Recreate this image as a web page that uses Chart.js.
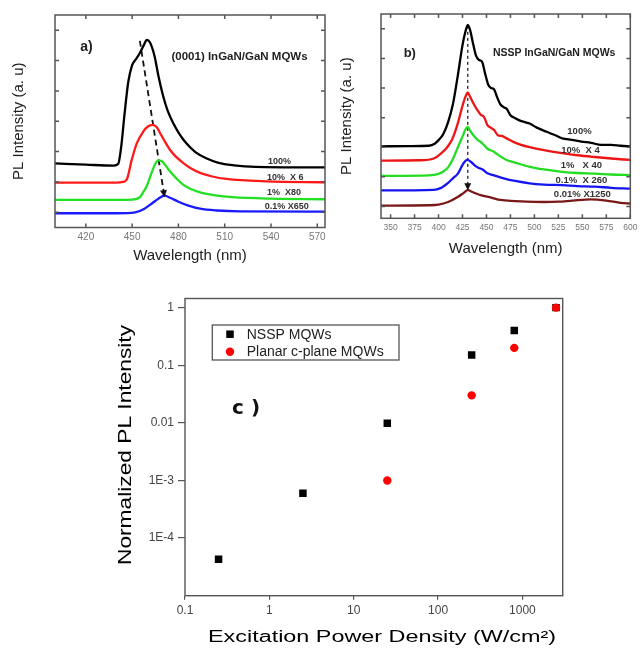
<!DOCTYPE html>
<html><head><meta charset="utf-8">
<script src="https://cdn.jsdelivr.net/npm/chart.js@4.4.0/dist/chart.umd.min.js"></script>
<style>
html,body{margin:0;padding:0;background:#fff;width:642px;height:648px;overflow:hidden;position:relative}
canvas{position:absolute}
</style></head><body>
<canvas id="ca" width="333" height="265" style="left:0;top:0"></canvas>
<canvas id="cb" width="309" height="262" style="left:333px;top:0"></canvas>
<canvas id="cc" width="542" height="383" style="left:100px;top:265px"></canvas>
<script>
// ---------- Panel a: (0001) InGaN/GaN MQWs ----------
const aTicksX = [420, 450, 480, 510, 540, 570];
const aTicksY = [0, 1, 2, 3, 4, 5, 6];
const a100X = [400,420,438,441,443,445,447.5,450,452.5,455,457.5,459.5,461.5,464.5,467,470,473,477,481,485,491,498,506,516,530,575];
const a100Y = [1.61,1.57,1.54,1.6,2.2,3.2,4.3,4.85,5.05,5.25,5.5,5.68,5.6,5.15,4.5,3.85,3.35,2.9,2.55,2.28,1.98,1.78,1.63,1.55,1.5,1.48];
const a10X = [400,420,440,444,446.5,449.7,453,457.2,460,463.3,466,468,471,474.5,478,483,488,494,502,511,537,575];
const a10Y = [0.98,0.98,0.98,1.0,1.08,1.72,2.27,2.66,2.82,2.88,2.8,2.62,2.35,2.06,1.85,1.63,1.45,1.30,1.18,1.10,1.02,0.99];
const a1X = [400,430,450,455,457,459.4,462.6,465,467,469,470.5,474.5,479,483,488,494,504,515,540,575];
const a1Y = [0.41,0.41,0.42,0.5,0.65,0.86,1.30,1.6,1.71,1.69,1.62,1.35,1.1,0.91,0.77,0.66,0.56,0.5,0.45,0.43];
const a01X = [400,420,440,452,458,463,467,471,475,480,486,494,505,520,575];
const a01Y = [-0.03,-0.03,-0.03,0.0,0.12,0.3,0.45,0.55,0.47,0.35,0.23,0.12,0.06,0.03,0.02];
const aPeakX = [455, 471];
const aPeakY = [5.65, 0.5];
const aLabels = ['100%', '10%  X 6', '1%  X80', '0.1% X650'];

// ---------- Panel b: NSSP InGaN/GaN MQWs ----------
const bTicksX = [350, 375, 400, 425, 450, 475, 500, 525, 550, 575, 600];
const bTicksY = [0, 1, 2, 3, 4, 5, 6];
const b100X = [340,370,390,396,400,405,410,415,420,425,428,430.5,433,436,439,442,445.5,448.5,452,455,458,461,464.5,468,471,475,480,485,490,495,502,512,520,529,539,549,559,569.6,580,590,600];
const b100Y = [2.03,2.04,2.05,2.12,2.24,2.45,2.85,3.45,4.4,5.45,5.9,6.13,5.95,5.5,5.1,4.95,4.88,4.5,4.1,4.0,3.95,3.7,3.45,3.35,3.3,3.08,2.98,2.9,2.85,2.8,2.67,2.53,2.43,2.3,2.25,2.19,2.15,2.08,2.08,2.05,2.03];
const b10X = [340,380,395,403,409,414,420,425,428,430.5,433,436,440,444,447.5,451,455,458,462,466,471,478,486,495,510,529,545,563,580,600];
const b10Y = [1.55,1.56,1.62,1.8,2.0,2.25,2.8,3.4,3.7,3.84,3.7,3.5,3.28,3.1,3.02,2.75,2.65,2.58,2.4,2.38,2.3,2.18,2.08,2.0,1.9,1.8,1.73,1.67,1.62,1.57];
const b1X = [340,390,400,405,410,415,420.4,425.5,428,430.5,433,437,440.7,444,447.5,451,457.7,464,471,480,495,510,529,545,563,580,600];
const b1Y = [1.03,1.05,1.1,1.18,1.32,1.6,2.02,2.4,2.6,2.69,2.55,2.38,2.25,2.18,2.07,1.95,1.85,1.7,1.57,1.48,1.34,1.25,1.17,1.13,1.11,1.08,1.06];
const b01X = [340,395,402,410,415,420.4,425.5,430,434,438,442,446,451,458,468,480,495,510,529,545,563,580,600];
const b01Y = [0.54,0.56,0.62,0.8,0.95,1.12,1.43,1.57,1.5,1.38,1.3,1.25,1.12,1.05,0.95,0.86,0.78,0.74,0.72,0.69,0.67,0.63,0.6];
const b001X = [340,390,400,410,420,426,430.5,436,444,455,464.5,480,491.7,510,525,540,559,575,590,600];
const b001Y = [0.03,0.04,0.06,0.15,0.32,0.45,0.55,0.48,0.38,0.3,0.22,0.18,0.16,0.15,0.16,0.2,0.24,0.2,0.12,0.1];
const bPeakX = [430.5, 430.5];
const bPeakY = [6.1, 0.55];
const bLabels = ['100%', '10%  X 4', '1%   X 40', '0.1%  X 260', '0.01% X1250'];

// ---------- Panel c: normalized PL intensity vs excitation ----------
const cTickX = [0.1, 1, 10, 100, 1000];
const cTickXLabels = ['0.1', '1', '10', '100', '1000'];
const cTickY = [1, 0.1, 0.01, 0.001, 0.0001];
const cTickYLabels = ['1', '0.1', '0.01', '1E-3', '1E-4'];
const nsspX = [0.25, 2.5, 25, 250, 800, 2500];
const nsspY = [4.3e-5, 6e-4, 0.0098, 0.15, 0.4, 1];
const planarX = [25, 250, 800, 2500];
const planarY = [1e-3, 0.03, 0.2, 1];

// ---------- helpers ----------
const FAM = "'Liberation Sans', Arial, sans-serif";
const pts = (xs, ys) => xs.map((x, i) => ({x: x, y: ys[i]}));
const setTicks = arr => (s => { s.ticks = arr.map(v => ({value: v})); });

function makeFrame(o) {
  return {
    id: 'frame',
    afterDatasetsDraw(chart) {
      const {ctx, chartArea: a} = chart;
      ctx.save();
      ctx.strokeStyle = o.color; ctx.lineWidth = o.width;
      ctx.strokeRect(a.left, a.top, a.right - a.left, a.bottom - a.top);
      if (o.tickLen) {
        const xs = chart.scales.x, ys = chart.scales.y, L = o.tickLen;
        ctx.beginPath();
        xs.ticks.forEach(t => {
          const p = xs.getPixelForValue(t.value);
          ctx.moveTo(p, a.bottom); ctx.lineTo(p, a.bottom - L);
          ctx.moveTo(p, a.top); ctx.lineTo(p, a.top + L);
        });
        ys.ticks.forEach(t => {
          const p = ys.getPixelForValue(t.value);
          ctx.moveTo(a.left, p); ctx.lineTo(a.left + L, p);
          ctx.moveTo(a.right, p); ctx.lineTo(a.right - L, p);
        });
        ctx.stroke();
      }
      ctx.restore();
    }
  };
}
function makeNotes(items) {
  return {
    id: 'notes',
    afterDatasetsDraw(chart) {
      const {ctx} = chart, xs = chart.scales.x, ys = chart.scales.y;
      ctx.save();
      items.forEach(it => {
        ctx.font = it.font; ctx.fillStyle = it.color || '#111';
        ctx.textAlign = it.align || 'left'; ctx.textBaseline = 'middle';
        ctx.fillText(it.text, xs.getPixelForValue(it.x), ys.getPixelForValue(it.y));
      });
      ctx.restore();
    }
  };
}
const arrowPlugin = {
  id: 'arrowHead',
  afterDatasetsDraw(chart) {
    const ctx = chart.ctx;
    chart.data.datasets.forEach((ds, i) => {
      if (!ds.arrow) return;
      const el = chart.getDatasetMeta(i).data;
      const p1 = el[el.length - 2], p2 = el[el.length - 1];
      const ang = Math.atan2(p2.y - p1.y, p2.x - p1.x);
      ctx.save(); ctx.fillStyle = ds.borderColor;
      ctx.translate(p2.x, p2.y); ctx.rotate(ang);
      ctx.beginPath(); ctx.moveTo(0, 0); ctx.lineTo(-7, -3.5); ctx.lineTo(-7, 3.5); ctx.closePath(); ctx.fill();
      ctx.restore();
    });
  }
};
function curve(xs, ys, color, w) {
  return {data: pts(xs, ys), borderColor: color, borderWidth: w, pointRadius: 0, cubicInterpolationMode: 'monotone', fill: false};
}
function specOptions(cfg) {
  return {
    responsive: false, animation: false, devicePixelRatio: 1, events: [],
    layout: {padding: {left: 0, top: cfg.top, right: cfg.right, bottom: 0}},
    plugins: {legend: {display: false}, tooltip: {enabled: false}},
    scales: {
      x: {type: 'linear', min: cfg.xmin, max: cfg.xmax,
          afterBuildTicks: setTicks(cfg.xt), afterFit: s => { s.height = cfg.xh; },
          grid: {display: false, drawTicks: false}, border: {display: false},
          ticks: {padding: cfg.tpad, color: '#777', font: {family: FAM, size: cfg.tsize}, maxRotation: 0, autoSkip: false},
          title: {display: true, text: 'Wavelength (nm)', color: '#222', font: {family: FAM, size: 15}, padding: {top: 0, bottom: cfg.xtPad}}},
      y: {type: 'linear', min: cfg.ymin, max: cfg.ymax,
          afterBuildTicks: setTicks(cfg.yt), afterFit: s => { s.width = cfg.yw; },
          grid: {display: false, drawTicks: false}, border: {display: false},
          ticks: {display: false},
          title: {display: true, text: 'PL Intensity (a. u)', color: '#222', font: {family: FAM, size: 15}, padding: {top: cfg.ytPad, bottom: 0}}}
    }
  };
}

// ---------- Panel a chart ----------
new Chart(document.getElementById('ca'), {
  type: 'line',
  data: {datasets: [
    curve(a100X, a100Y, '#000000', 2.3),
    curve(a10X, a10Y, '#ff1a1a', 2.3),
    curve(a1X, a1Y, '#22e022', 2.3),
    curve(a01X, a01Y, '#1a1aff', 2.3),
    {data: pts(aPeakX, aPeakY), borderColor: '#111', borderWidth: 1.8, borderDash: [6, 4], pointRadius: 0, arrow: true}
  ]},
  options: specOptions({top: 15, right: 8, xmin: 400, xmax: 575, xt: aTicksX, xh: 37.5, tpad: 4, tsize: 10, xtPad: 0,
                        ymin: -0.5, ymax: 6.5, yt: aTicksY, yw: 55, ytPad: 10}),
  plugins: [makeFrame({color: '#555', width: 1.5, tickLen: 4}), arrowPlugin, makeNotes([
    {text: 'a)', x: 420.4, y: 5.45, font: 'bold 14px ' + FAM, align: 'center', color: '#222'},
    {text: '(0001) InGaN/GaN MQWs', x: 519.6, y: 5.12, font: 'bold 11.5px ' + FAM, align: 'center', color: '#222'},
    {text: aLabels[0], x: 538, y: 1.69, font: 'bold 9px ' + FAM, color: '#333'},
    {text: aLabels[1], x: 537.4, y: 1.16, font: 'bold 9px ' + FAM, color: '#333'},
    {text: aLabels[2], x: 537.4, y: 0.64, font: 'bold 9px ' + FAM, color: '#333'},
    {text: aLabels[3], x: 536, y: 0.175, font: 'bold 9px ' + FAM, color: '#333'}
  ])]
});

// ---------- Panel b chart ----------
new Chart(document.getElementById('cb'), {
  type: 'line',
  data: {datasets: [
    curve(b100X, b100Y, '#000000', 2.3),
    curve(b10X, b10Y, '#ee1515', 2.3),
    curve(b1X, b1Y, '#22dd22', 2.3),
    curve(b01X, b01Y, '#1515f0', 2.3),
    curve(b001X, b001Y, '#7a1818', 2.3),
    {data: pts(bPeakX, bPeakY), borderColor: '#111', borderWidth: 1.2, borderDash: [3, 3], pointRadius: 0, arrow: true}
  ]},
  options: specOptions({top: 14, right: 5.3, xmin: 340, xmax: 600, xt: bTicksX, xh: 43.7, tpad: 4.6, tsize: 8.5, xtPad: 4,
                        ymin: -0.4, ymax: 6.5, yt: bTicksY, yw: 48, ytPad: 5}),
  plugins: [makeFrame({color: '#555', width: 1.5, tickLen: 4}), arrowPlugin, makeNotes([
    {text: 'b)', x: 370, y: 5.18, font: 'bold 13px ' + FAM, align: 'center', color: '#222'},
    {text: 'NSSP InGaN/GaN MQWs', x: 520.6, y: 5.18, font: 'bold 10.5px ' + FAM, align: 'center', color: '#222'},
    {text: bLabels[0], x: 547, y: 2.52, font: 'bold 9.5px ' + FAM, align: 'center', color: '#333'},
    {text: bLabels[1], x: 548, y: 1.9, font: 'bold 9.5px ' + FAM, align: 'center', color: '#333'},
    {text: bLabels[2], x: 549, y: 1.39, font: 'bold 9.5px ' + FAM, align: 'center', color: '#333'},
    {text: bLabels[3], x: 549, y: 0.89, font: 'bold 9.5px ' + FAM, align: 'center', color: '#333'},
    {text: bLabels[4], x: 550, y: 0.41, font: 'bold 9.5px ' + FAM, align: 'center', color: '#333'}
  ])]
});

// ---------- Panel c chart ----------
function stretchText(ctx, text, cx, cy, width, font, color, rot) {
  ctx.save();
  ctx.font = font; ctx.fillStyle = color; ctx.textAlign = 'center'; ctx.textBaseline = 'middle';
  const w = ctx.measureText(text).width;
  ctx.translate(cx, cy);
  if (rot) ctx.rotate(rot);
  ctx.scale(width / w, 1);
  ctx.fillText(text, 0, 0);
  ctx.restore();
}
const panelCDecor = {
  id: 'panelCDecor',
  afterDraw(chart) {
    const {ctx, chartArea: a} = chart;
    const xs = chart.scales.x, ys = chart.scales.y;
    // axis titles
    stretchText(ctx, 'Excitation Power Density (W/cm\u00B2)', 282, 373, 348, '16px ' + FAM, '#000', 0);
    stretchText(ctx, 'Normalized PL Intensity', 26.5, 180, 240, '18px ' + FAM, '#000', -Math.PI / 2);
    // panel tag
    ctx.save();
    ctx.font = 'bold 20px ' + "'DejaVu Sans', sans-serif"; ctx.fillStyle = '#111';
    ctx.textAlign = 'center'; ctx.textBaseline = 'middle';
    ctx.fillText('c )', xs.getPixelForValue(0.53), ys.getPixelForValue(0.0177));
    ctx.restore();
    // legend box
    const L = a.left + 27.3, T = a.top + 26.5, W = 186.7, H = 35;
    ctx.save();
    ctx.strokeStyle = '#555'; ctx.lineWidth = 1.3;
    ctx.strokeRect(L, T, W, H);
    ctx.font = '14px ' + FAM; ctx.fillStyle = '#222'; ctx.textBaseline = 'middle'; ctx.textAlign = 'left';
    const ds = chart.data.datasets;
    const rows = [ds[1], ds[0]];
    rows.forEach((d, k) => {
      const y = T + 9.2 + k * 17.5;
      ctx.fillStyle = d.backgroundColor;
      Chart.helpers.drawPoint(ctx, {pointStyle: d.pointStyle, radius: d.pointRadius, borderWidth: 0}, L + 17.7, y);
      ctx.fillStyle = '#222';
      ctx.fillText(d.label, L + 34.4, y + 0.5);
    });
    ctx.restore();
  }
};
new Chart(document.getElementById('cc'), {
  type: 'scatter',
  data: {datasets: [
    {label: 'Planar c-plane MQWs', data: pts(planarX, planarY), pointStyle: 'circle', pointRadius: 4.2,
     backgroundColor: '#ff0000', borderColor: '#ff0000', borderWidth: 0, order: 0},
    {label: 'NSSP MQWs', data: pts(nsspX, nsspY), pointStyle: 'rect', pointRadius: 5.3,
     backgroundColor: '#000000', borderColor: '#000000', borderWidth: 0, order: 1}
  ]},
  options: {
    responsive: false, animation: false, devicePixelRatio: 1, events: [],
    layout: {padding: {left: 0, top: 33.5, right: 79.3, bottom: 0}},
    plugins: {legend: {display: false}, tooltip: {enabled: false}},
    scales: {
      x: {type: 'logarithmic', min: 0.1, max: 3000,
          afterBuildTicks: setTicks(cTickX), afterFit: s => { s.height = 52.3; },
          grid: {drawOnChartArea: false, tickLength: 4, color: '#555', lineWidth: 1.2},
          border: {display: false},
          ticks: {padding: 3.5, color: '#444', font: {family: FAM, size: 12}, maxRotation: 0, autoSkip: false,
                  callback: (v, i) => cTickXLabels[i]}},
      y: {type: 'logarithmic', min: 1e-5, max: 1.44,
          afterBuildTicks: setTicks(cTickY), afterFit: s => { s.width = 85; },
          grid: {drawOnChartArea: false, tickLength: 7, color: '#555', lineWidth: 1.2},
          border: {display: false},
          ticks: {padding: 4, color: '#444', font: {family: FAM, size: 12}, autoSkip: false,
                  callback: (v, i) => cTickYLabels[i]}}
    }
  },
  plugins: [makeFrame({color: '#555', width: 1.4, tickLen: 0}), panelCDecor]
});
</script>
</body></html>
